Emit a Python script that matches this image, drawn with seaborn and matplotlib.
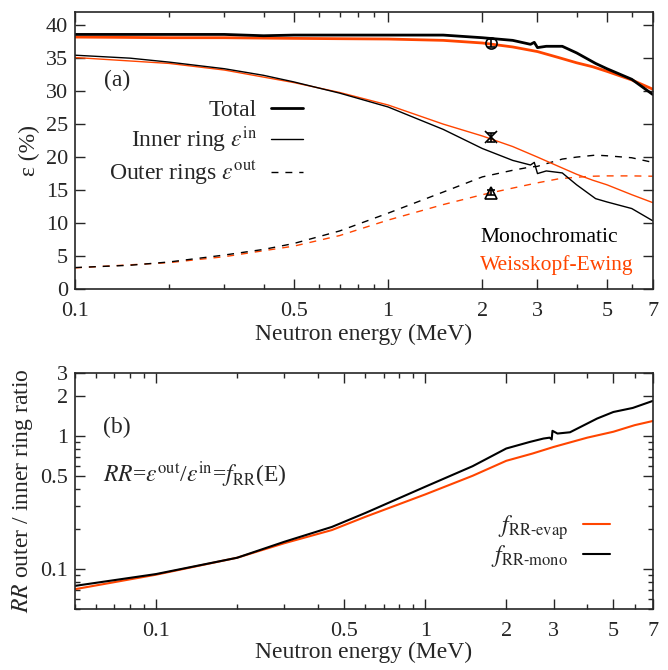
import numpy as np
import pandas as pd
import matplotlib
matplotlib.use("Agg")
import matplotlib.pyplot as plt
from matplotlib.ticker import FixedLocator, LogLocator, NullFormatter, FixedFormatter
from matplotlib.lines import Line2D
import seaborn as sns

# ---------------- data (panel a) ----------------
E_mono = [0.1, 0.15, 0.2, 0.3, 0.4, 0.5, 0.7, 1.0, 1.5, 2.0, 2.5, 2.85, 2.93, 3.0, 3.2, 3.6, 4.0, 4.6, 5.0, 6.0, 7.0]
mono_total = [38.6, 38.6, 38.6, 38.6, 38.4, 38.5, 38.5, 38.5, 38.5, 38.1, 37.7, 37.1, 37.4, 36.6, 36.8, 36.8, 35.8, 34.2, 33.4, 31.8, 29.5]
mono_inner = [35.45, 35.0, 34.4, 33.4, 32.4, 31.4, 29.7, 27.6, 24.2, 21.3, 19.5, 18.8, 19.2, 17.5, 17.9, 17.6, 15.8, 13.7, 13.2, 12.2, 10.35]
mono_outer = [3.25, 3.6, 4.1, 5.15, 6.0, 6.9, 8.8, 11.5, 14.7, 17.0, 18.0, 18.5, 18.55, 18.6, 19.0, 19.7, 20.0, 20.3, 20.2, 19.9, 19.2]

E_evap = [0.1, 0.2, 0.3, 0.5, 0.7, 1.0, 1.5, 2.0, 2.5, 3.0, 3.5, 4.0, 4.5, 5.0, 6.0, 7.0]
evap_total = [38.2, 38.1, 38.1, 38.0, 37.95, 37.9, 37.7, 37.3, 36.7, 36.0, 35.1, 34.3, 33.7, 33.0, 31.7, 30.3]
evap_inner = [35.1, 34.2, 33.2, 31.3, 29.8, 27.9, 25.0, 23.2, 21.6, 20.0, 18.6, 17.4, 16.5, 15.8, 14.3, 13.1]
evap_outer = [3.2, 4.0, 4.9, 6.5, 8.1, 10.45, 12.8, 14.3, 15.3, 16.1, 16.7, 16.95, 17.1, 17.15, 17.15, 17.1]

# measured points
E_meas = [2.13, 2.13, 2.13]
meas_val = [37.3, 23.0, 14.6]
meas_err = [0.6, 0.7, 0.4]
meas_marker = ["o", "x", "^"]

# ---------------- data (panel b) ----------------
E_rr_mono = [0.05, 0.1, 0.2, 0.3, 0.45, 0.6, 1.0, 1.5, 2.0, 2.45, 2.75, 2.9, 2.95, 2.97, 3.1, 3.45, 4.0, 4.35, 5.0, 5.9, 7.0]
rr_mono = [0.075, 0.092, 0.122, 0.161, 0.208, 0.265, 0.417, 0.595, 0.808, 0.906, 0.96, 0.975, 0.945, 1.097, 1.047, 1.07, 1.245, 1.357, 1.52, 1.63, 1.84]
E_rr_evap = [0.05, 0.1, 0.2, 0.3, 0.45, 0.6, 1.0, 1.5, 2.0, 2.5, 3.0, 4.0, 5.0, 6.0, 7.0]
rr_evap = [0.0708, 0.091, 0.122, 0.157, 0.197, 0.248, 0.365, 0.504, 0.653, 0.74, 0.83, 0.975, 1.08, 1.21, 1.30]

x_ticks = [0.1, 0.5, 1, 2, 3, 5, 7]
x_ticklabels = ["0.1", "0.5", "1", "2", "3", "5", "7"]
y_ticks_b = [0.1, 0.5, 1, 2, 3]
y_ticklabels_b = ["0.1", "0.5", "1", "2", "3"]

ORANGE = "#ff4500"
BLACK = "black"

sns.set_style("ticks")
plt.rcParams["font.family"] = ["Liberation Serif", "DejaVu Serif"]
plt.rcParams["mathtext.fontset"] = "stix"
plt.rcParams["xtick.direction"] = "in"
plt.rcParams["ytick.direction"] = "in"
plt.rcParams["xtick.top"] = True
plt.rcParams["ytick.right"] = True

FS_TICK = 16
FS_LAB = 17
FS_TXT = 17
FS_MODEL = 15.5

fig = plt.figure(figsize=(6.68, 6.70), dpi=100)
axa = fig.add_axes([75/668, 1-289/670, 577.7/668, 277/670])
axb = fig.add_axes([75/668, 1-609.3/670, 577.7/668, 236.6/670])

def line(ax, x, y, color, lw, ls="-"):
    sns.lineplot(x=x, y=y, ax=ax, color=color, lw=lw, estimator=None, sort=False,
                 linestyle=ls)

def style_axis(ax):
    ax.tick_params(which="major", length=7, width=1, labelsize=FS_TICK)
    ax.tick_params(which="minor", length=3.6, width=1)
    ax.tick_params(axis="x", which="both", pad=9.5)
    ax.tick_params(axis="y", which="both", pad=5)
    for s in ax.spines.values():
        s.set_linewidth(1.2)

# ---- panel a ----
dash = (0, (5, 5))
line(axa, E_evap, evap_outer, ORANGE, 1.0, dash)
line(axa, E_mono, mono_outer, BLACK, 1.0, dash)
line(axa, E_evap, evap_inner, ORANGE, 1.0)
line(axa, E_mono, mono_inner, BLACK, 1.0)
line(axa, E_evap, evap_total, ORANGE, 2.0)
line(axa, E_mono, mono_total, BLACK, 2.0)

for e, v, err, m in zip(E_meas, meas_val, meas_err, meas_marker):
    axa.errorbar([e], [v], yerr=[err], fmt=m, mfc="none", mec="black", ecolor="black",
                 color="black", ms=8, mew=1.2, capsize=3, elinewidth=1.2)

axa.set_xscale("log")
axa.set_xlim(0.1, 7)
axa.set_ylim(0, 42)
axa.xaxis.set_major_locator(FixedLocator(x_ticks))
axa.xaxis.set_major_formatter(FixedFormatter(x_ticklabels))
axa.xaxis.set_minor_locator(LogLocator(base=10, subs=np.arange(2, 10)))
axa.xaxis.set_minor_formatter(NullFormatter())
axa.set_yticks(np.arange(0, 41, 5))
style_axis(axa)
axa.set_xlabel("Neutron energy (MeV)", fontsize=FS_LAB, labelpad=2)
axa.set_ylabel("ε (%)", fontsize=FS_LAB, labelpad=4)

handles = [Line2D([], [], color="black", lw=2.0),
           Line2D([], [], color="black", lw=1.0),
           Line2D([], [], color="black", lw=1.0, linestyle=dash)]
labels = ["Total", r"Inner ring $\varepsilon^{\rm in}$", r"Outer rings $\varepsilon^{\rm out}$"]
axa.legend(handles, labels, loc="upper right", bbox_to_anchor=(0.395, 0.684), frameon=False,
           markerfirst=False, fontsize=FS_TXT, handlelength=1.35, handletextpad=0.6,
           labelspacing=0.15, borderpad=0, borderaxespad=0)

axa.text(0.0727, 0.7545, "(a)", transform=axa.transAxes, fontsize=FS_TXT, ha="center", va="center")
axa.text(0.701, 0.185, "Monochromatic", transform=axa.transAxes, fontsize=FS_MODEL, color="black", va="center")
axa.text(0.701, 0.087, "Weisskopf-Ewing", transform=axa.transAxes, fontsize=FS_MODEL, color=ORANGE, va="center")

# ---- panel b ----
line(axb, E_rr_evap, rr_evap, ORANGE, 1.5)
line(axb, E_rr_mono, rr_mono, BLACK, 1.5)
axb.set_xscale("log")
axb.set_yscale("log")
axb.set_xlim(0.05, 7)
axb.set_ylim(0.05, 3)
axb.xaxis.set_major_locator(FixedLocator(x_ticks))
axb.xaxis.set_major_formatter(FixedFormatter(x_ticklabels))
axb.xaxis.set_minor_locator(LogLocator(base=10, subs=np.arange(2, 10)))
axb.xaxis.set_minor_formatter(NullFormatter())
axb.yaxis.set_major_locator(FixedLocator(y_ticks_b))
axb.yaxis.set_major_formatter(FixedFormatter(y_ticklabels_b))
axb.yaxis.set_minor_locator(LogLocator(base=10, subs=np.arange(2, 10)))
axb.yaxis.set_minor_formatter(NullFormatter())
style_axis(axb)
axb.set_xlabel("Neutron energy (MeV)", fontsize=FS_LAB, labelpad=0)
axb.set_ylabel(r"$RR$ outer / inner ring ratio", fontsize=FS_LAB, labelpad=4)

hb = [Line2D([], [], color=ORANGE, lw=1.5), Line2D([], [], color="black", lw=1.5)]
lb = [r"$f_{\text{RR-evap}}$", r"$f_{\text{RR-mono}}$"]
axb.legend(hb, lb, loc="upper right", bbox_to_anchor=(0.926, 0.406), frameon=False,
           markerfirst=False, fontsize=FS_TXT, handlelength=1.15, handletextpad=0.63,
           labelspacing=0.05, borderpad=0, borderaxespad=0)

axb.text(0.0727, 0.770, "(b)", transform=axb.transAxes, fontsize=FS_TXT, ha="center", va="center")
axb.text(0.0485, 0.568, r"$RR$=$\varepsilon^{\rm out}$/$\varepsilon^{\rm in}$=$f_{\rm RR}$(E)",
         transform=axb.transAxes, fontsize=FS_TXT, va="center")

fig.savefig("out.png", dpi=100)
